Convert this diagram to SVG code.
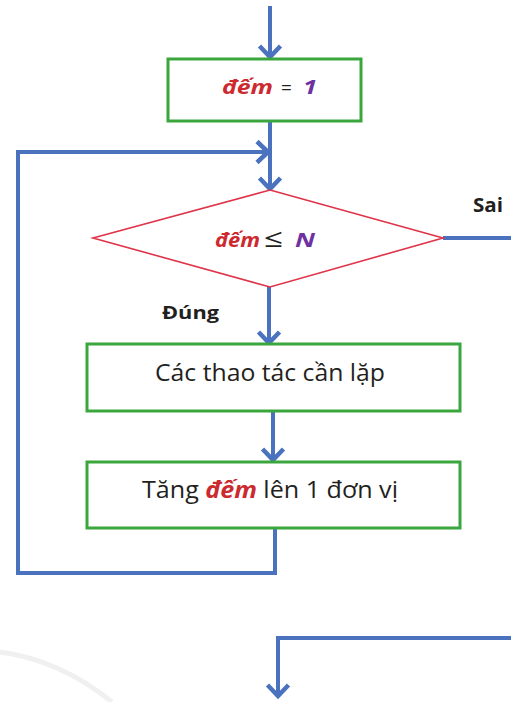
<svg xmlns="http://www.w3.org/2000/svg" width="511" height="702" viewBox="0 0 511 702">
<style>
  .box{fill:#ffffff;stroke:#3aa63c;stroke-width:3}
  .dia{fill:#ffffff;stroke:#e0344a;stroke-width:1.6}
  .con{fill:none;stroke:#4a72bf;stroke-width:4;stroke-linejoin:miter}
  .t{font-family:"Open Sans","Noto Sans",sans-serif;fill:#231f20}
  .v{font-weight:bold;font-style:italic;fill:#cc2a2f}
  .p{font-weight:bold;font-style:italic;fill:#6f30a0}
  .b{font-weight:bold}
</style>
<defs>
  <marker id="arr" viewBox="0 0 16 26" markerUnits="userSpaceOnUse" markerWidth="16" markerHeight="26" refX="13" refY="13" orient="auto">
    <path d="M2,2.5 L13,13 L2,23.5" fill="none" stroke="#4a72bf" stroke-width="4.5"/>
  </marker>
</defs>
<rect width="511" height="702" fill="#ffffff"/>
<path d="M0,652 Q60,660 112,702" fill="none" stroke="#f0f0f0" stroke-width="5"/>
<g id="connectors">
  <line class="con" x1="270" y1="6" x2="270" y2="57" marker-end="url(#arr)"/>
  <line class="con" x1="270" y1="121" x2="270" y2="189" marker-end="url(#arr)"/>
  <path class="con" d="M275,528 L275,573 L18,573 L18,152 L268,152" marker-end="url(#arr)"/>
  <line class="con" x1="269" y1="287" x2="269" y2="343" marker-end="url(#arr)"/>
  <line class="con" x1="273" y1="411" x2="273" y2="460" marker-end="url(#arr)"/>
  <line class="con" x1="443" y1="238" x2="511" y2="238"/>
  <path class="con" d="M511,638 L278,638 L278,696" marker-end="url(#arr)"/>
</g>
<g id="init">
  <rect class="box" x="168" y="59" width="193" height="62"/>
  <text class="t" y="94" font-size="19"><tspan class="v" x="222" textLength="51" lengthAdjust="spacingAndGlyphs">đếm</tspan><tspan x="281">=</tspan><tspan class="p" x="303" textLength="14" lengthAdjust="spacingAndGlyphs">1</tspan></text>
</g>
<g id="cond">
  <polygon class="dia" points="270,190 443,238 270,287 93,238"/>
  <text class="t" y="247" font-size="19"><tspan class="v" x="215" textLength="45" lengthAdjust="spacingAndGlyphs">đếm</tspan><tspan x="264" font-size="25" textLength="19" lengthAdjust="spacingAndGlyphs">≤</tspan><tspan class="p" x="295" textLength="20" lengthAdjust="spacingAndGlyphs">N</tspan></text>
</g>
<g id="labels">
  <text class="t b" x="473" y="212" font-size="19" textLength="30" lengthAdjust="spacingAndGlyphs">Sai</text>
  <text class="t b" x="162" y="319" font-size="18" textLength="57" lengthAdjust="spacingAndGlyphs">Đúng</text>
</g>
<g id="body">
  <rect class="box" x="87" y="344" width="373" height="67"/>
  <text class="t" x="155" y="381" font-size="23" textLength="230" lengthAdjust="spacingAndGlyphs">Các thao tác cần lặp</text>
</g>
<g id="incr">
  <rect class="box" x="87" y="462" width="373" height="66"/>
  <text class="t" x="142" y="498" font-size="23" textLength="256" lengthAdjust="spacingAndGlyphs">Tăng <tspan class="v">đếm</tspan> lên 1 đơn vị</text>
</g>
</svg>
